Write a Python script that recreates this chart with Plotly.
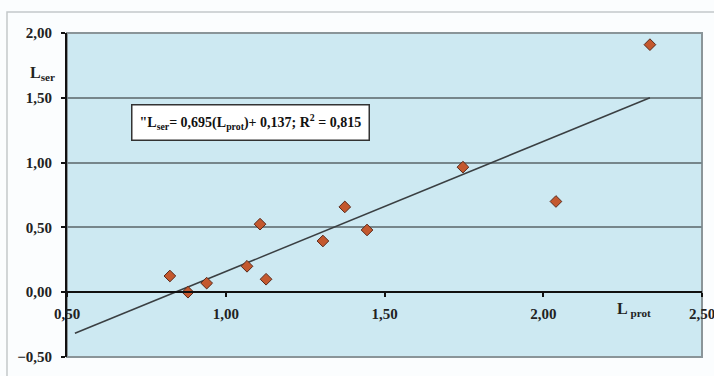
import plotly.graph_objects as go

# data
l_prot = [0.824, 0.881, 0.940, 1.067, 1.108, 1.127, 1.306, 1.375, 1.445, 1.747, 2.040, 2.336]
l_ser = [0.125, 0.000, 0.070, 0.200, 0.525, 0.100, 0.395, 0.658, 0.480, 0.965, 0.700, 1.910]
trend_x = [0.525, 2.336]
trend_y = [-0.317, 1.500]
x_ticks = [0.5, 1.0, 1.5, 2.0, 2.5]
y_ticks = [-0.5, 0.0, 0.5, 1.0, 1.5, 2.0]
equation = '"L<sub>ser</sub>= 0,695(L<sub>prot</sub>)+ 0,137; R<sup>2</sup> = 0,815'

FONT = "Liberation Serif"

fig = go.Figure()
fig.add_trace(go.Scatter(x=trend_x, y=trend_y, mode="lines",
                         line=dict(color="#3a3f42", width=1.5), hoverinfo="skip"))
fig.add_trace(go.Scatter(x=l_prot, y=l_ser, mode="markers",
                         marker=dict(symbol="diamond", size=9, color="#c4582e",
                                     line=dict(color="#5a2a1c", width=1))))

fig.update_layout(
    width=714, height=376,
    margin=dict(l=67, r=12, t=33, b=19, autoexpand=False),
    paper_bgcolor="#fbfdfe", plot_bgcolor="#cde9f2",
    showlegend=False,
    separators=",.",
    font=dict(family=FONT, size=12, color="#222"),
    xaxis=dict(range=[0.5, 2.5], tickvals=x_ticks, tickformat=".2f",
               showgrid=False, zeroline=False, automargin=False,
               anchor="free", position=0.2,
               showline=True, linecolor="#111", linewidth=2,
               ticks="outside", ticklen=4, tickwidth=1.5, tickcolor="#111",
               ticklabelstandoff=4, ticklabeloverflow="allow",
               tickfont=dict(family=FONT, size=15, color="#222", weight="bold")),
    yaxis=dict(range=[-0.5, 2.0], tickvals=y_ticks, tickformat=".2f",
               showgrid=True, gridcolor="#76868b", gridwidth=2,
               zeroline=False, automargin=False,
               showline=True, linecolor="#111", linewidth=2,
               ticks="outside", ticklen=4, tickwidth=1.5, tickcolor="#111",
               ticklabelstandoff=6,
               tickfont=dict(family=FONT, size=15, color="#222", weight="bold")),
)

# plot-area border and outer frame
fig.add_shape(type="rect", xref="paper", yref="paper", x0=0, x1=1, y0=0, y1=1,
              line=dict(color="#8a9599", width=2), layer="below")
fig.add_shape(type="rect", xref="paper", yref="paper", x0=-0.0945, x1=1.03, y0=-0.1, y1=1.0648,
              line=dict(color="#c4c8ca", width=1.5), layer="below")

fig.add_annotation(xref="paper", yref="paper", x=-0.061, y=0.91, text="L<sub>ser</sub>",
                   showarrow=False, font=dict(family=FONT, size=16, color="#222", weight="bold"))
fig.add_annotation(x=2.285, y=0, yshift=-17, text="L<sub> prot</sub>",
                   showarrow=False, font=dict(family=FONT, size=16, color="#222", weight="bold"))
fig.add_annotation(x=1.078, y=1.31, text=equation, showarrow=False,
                   bgcolor="#ffffff", bordercolor="#333", borderwidth=1.5, borderpad=7,
                   font=dict(family=FONT, size=14, color="#111", weight="bold"))

fig.write_html("out.html", config={"displayModeBar": False},
               post_script="document.body.style.margin='0';")
